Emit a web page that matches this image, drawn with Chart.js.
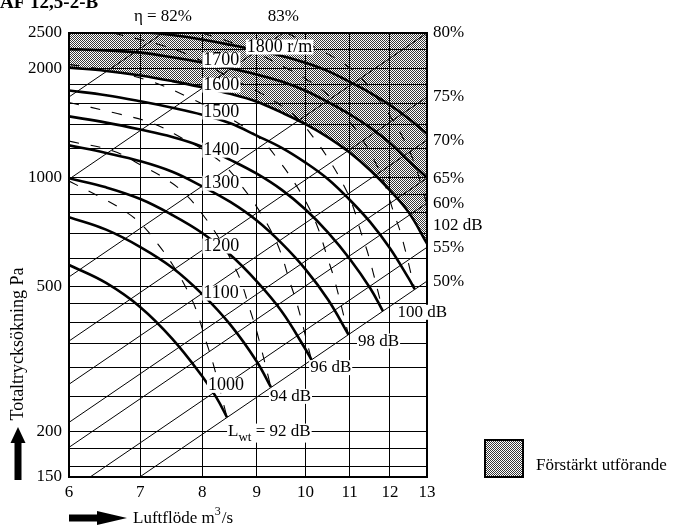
<!DOCTYPE html>
<html>
<head>
<meta charset="utf-8">
<script src="https://cdn.jsdelivr.net/npm/chart.js@4"></script>
<style>
  html, body { margin: 0; padding: 0; background: #fff; }
  canvas { display: block; background: #fff; }
</style>
</head>
<body>
<canvas id="fan" width="674" height="531"></canvas>
<script>
// Fan diagram: total pressure rise vs air flow, log-log axes.

const FONT = '"Liberation Serif", "Times New Roman", serif';

// Axis ticks
const xTicks = [6, 7, 8, 9, 10, 11, 12, 13];
const yGrid = [150, 160, 180, 200, 250, 300, 350, 400, 450, 500, 600, 700, 800, 900,
               1000, 1200, 1400, 1600, 1800, 2000, 2250, 2500];
const yLabelled = [150, 200, 500, 1000, 2000, 2500];

// Fan speed curves, [air flow m3/s, total pressure Pa]
const n1000 = [[6,575],[6.5,513],[7,440],[7.5,360],[8,284],[8.25,248],[8.44,219]];
const n1100 = [[6,778],[6.5,719],[7,644],[7.5,565],[8,478],[8.5,394],[9,312],[9.28,265]];
const n1200 = [[6,996],[6.5,940],[7,873],[7.5,789],[8,704],[8.5,613],[9,518],[9.5,428],[10,337],[10.13,315]];
const n1300 = [[6,1227],[6.5,1169],[7,1110],[7.5,1038],[8,946],[8.5,857],[9,762],[9.5,659],[10,559],[10.5,461],[10.97,370]];
const n1400 = [[6,1474],[6.5,1417],[7,1356],[7.5,1294],[8,1217],[8.5,1119],[9,1025],[9.5,925],[10,817],[10.5,706],[11,598],[11.5,496],[11.82,429]];
const n1500 = [[6,1737],[6.5,1685],[7,1622],[7.5,1557],[8,1490],[8.5,1411],[9,1305],[9.5,1208],[10,1100],[10.5,990],[11,869],[11.5,754],[12,639],[12.5,527],[12.66,493]];
const n1600 = [[6,2007],[6.5,1966],[7,1910],[7.5,1843],[8,1772],[8.5,1700],[9,1618],[9.5,1510],[10,1403],[10.5,1290],[11,1172],[11.5,1047],[12,922],[12.5,801],[13,658]];
const n1700 = [[6,2257],[6.5,2240],[7,2208],[7.5,2144],[8,2075],[8.5,2000],[9,1922],[9.5,1838],[10,1734],[10.5,1613],[11,1494],[11.5,1373],[12,1246],[12.5,1110],[13,1000]];
const n1800 = [[6,2540],[6.5,2534],[7,2515],[7.5,2469],[8,2398],[8.5,2320],[9,2242],[9.5,2161],[10,2070],[10.5,1963],[11,1834],[11.5,1711],[12,1584],[12.5,1452],[13,1320]];
const speedNames = ['1000', '1100', '1200', '1300', '1400', '1500', '1600', '1700', '1800 r/m'];

// Efficiency lines (system parabolas), end points
const eta82 = [[6,1667],[7.35,2500]];
const eta83 = [[6,990],[9.53,2500]];
const eta80 = [[6,533],[13,2500]];
const eta75 = [[6,355],[13,1667]];
const eta70 = [[6,270],[13,1268]];
const eta65 = [[6,212],[13,997]];
const eta60 = [[6,181],[13,851]];
const eta55 = [[6.28,150],[13,643]];
const eta50 = [[6.99,150],[13,519]];

// Sound power lines L_wt (dB)
const lwt92 = [[6,978],[6.42,884],[6.7,824],[7,749],[7.27,656],[7.51,574],[7.73,496],[7.9,431],[8.05,361],[8.19,308],[8.44,219]];
const lwt94 = [[6,1260],[6.6,1183],[7.06,1070],[7.37,997],[7.7,906],[8,794],[8.26,695],[8.5,600],[8.69,522],[8.86,437],[9.01,373],[9.28,265]];
const lwt96 = [[6,1610],[6.6,1510],[7.2,1408],[7.7,1273],[8.04,1187],[8.4,1079],[8.72,945],[9.01,827],[9.28,714],[9.48,621],[9.66,520],[9.83,444],[10.13,315]];
const lwt98 = [[6,2050],[6.6,1960],[7.2,1830],[7.8,1653],[8.35,1494],[8.71,1393],[9.1,1266],[9.45,1109],[9.76,970],[10.05,838],[10.27,728],[10.47,610],[10.65,521],[10.97,370]];
const lwt100 = [[6.6,2500],[7.3,2320],[7.9,2130],[8.4,1917],[8.99,1733],[9.38,1615],[9.8,1468],[10.18,1286],[10.51,1125],[10.82,972],[11.06,845],[11.27,708],[11.47,604],[11.82,429]];
const lwt102 = [[8,2500],[8.5,2360],[9,2200],[9.63,1989],[10.05,1854],[10.5,1685],[10.9,1476],[11.27,1292],[11.6,1116],[11.85,970],[12.08,812],[12.3,693],[12.66,493]];
const lwt104 = [[9.6,2504],[10.27,2263],[10.72,2109],[11.2,1917],[11.63,1679],[12.02,1469],[12.37,1270],[12.64,1103],[12.88,923],[13.1,780]];

// Label anchors in data units
const speedLabelAt = [[8.1,268],[8.02,481],[8.02,648],[8.02,965],[8.02,1190],[8.02,1515],[8.02,1797],[8.02,2106],[8.81,2287]];
const soundLabels = [
  { text: '92 dB', at: [8.46, 200], sub: true },
  { text: '94 dB', at: [9.26, 250] },
  { text: '96 dB', at: [10.1, 300] },
  { text: '98 dB', at: [11.2, 355] },
  { text: '100 dB', at: [12.2, 426] }
];
const sideSound = { text: '102 dB', p: 740 };
const rightEta = [['80%', eta80], ['75%', eta75], ['70%', eta70], ['65%', eta65], ['60%', eta60], ['55%', eta55], ['50%', eta50]];
const topEta = [['\u03b7 = 82%', eta82], ['83%', eta83]];

const ctx0 = document.getElementById('fan').getContext('2d');

// Stippled fill for the reinforced range
const dots = ctx0.createPattern((() => {
  const c = document.createElement('canvas');
  c.width = 2; c.height = 2;
  const g = c.getContext('2d');
  g.fillStyle = '#fff'; g.fillRect(0, 0, 2, 2);
  g.fillStyle = '#383838';
  g.fillRect(0, 0, 1, 1); g.fillRect(1, 1, 1, 1);
  return c;
})(), 'repeat');

const toXY = arr => arr.map(([x, y]) => ({ x, y }));

const speedSets = [n1000, n1100, n1200, n1300, n1400, n1500, n1600, n1700, n1800].map((d, i) => ({
  label: speedNames[i],
  data: toXY(d),
  borderColor: '#000',
  borderWidth: 2.6,
  pointRadius: 0,
  tension: 0.4,
  fill: speedNames[i] === '1600' ? 'end' : false,
  backgroundColor: speedNames[i] === '1600' ? dots : 'transparent'
}));
const etaSets = [eta82, eta83, eta80, eta75, eta70, eta65, eta60, eta55, eta50].map(d => ({
  data: toXY(d), borderColor: '#000', borderWidth: 1, pointRadius: 0, tension: 0, fill: false
}));
const soundSets = [lwt92, lwt94, lwt96, lwt98, lwt100, lwt102, lwt104].map(d => ({
  data: toXY(d), borderColor: '#000', borderWidth: 1.1, borderDash: [10, 12], pointRadius: 0,
  tension: 0.4, fill: false
}));

function boxText(ctx, text, x, y, h) {
  const w = ctx.measureText(text).width;
  ctx.fillStyle = '#fff';
  ctx.fillRect(x - 1, y - h / 2, w + 2, h);
  ctx.fillStyle = '#000';
  ctx.fillText(text, x, y);
}

const annotate = {
  id: 'annotate',
  afterDatasetsDraw(chart) {
    const { ctx, chartArea: a, scales: { x: sx, y: sy } } = chart;
    ctx.save();
    // frame
    ctx.strokeStyle = '#000';
    ctx.lineWidth = 2;
    ctx.strokeRect(a.left, a.top, a.right - a.left, a.bottom - a.top);

    ctx.textBaseline = 'middle';
    ctx.textAlign = 'left';
    // speed labels
    ctx.font = '18px ' + FONT;
    speedLabelAt.forEach(([q, p], i) => {
      boxText(ctx, speedNames[i], sx.getPixelForValue(q), sy.getPixelForValue(p), 15);
    });
    // sound labels
    soundLabels.forEach(l => {
      const px = sx.getPixelForValue(l.at[0]);
      const py = sy.getPixelForValue(l.at[1]);
      if (l.sub) {
        ctx.font = '17px ' + FONT;
        const wL = ctx.measureText('L').width;
        ctx.font = '13px ' + FONT;
        const wS = ctx.measureText('wt').width;
        ctx.font = '17px ' + FONT;
        const rest = ' = ' + l.text;
        const wR = ctx.measureText(rest).width;
        ctx.fillStyle = '#fff';
        ctx.fillRect(px - 1, py - 8, wL + wS + wR + 2, 19);
        ctx.fillStyle = '#000';
        ctx.fillText('L', px, py);
        ctx.font = '13px ' + FONT;
        ctx.fillText('wt', px + wL, py + 6);
        ctx.font = '17px ' + FONT;
        ctx.fillText(rest, px + wL + wS, py);
      } else {
        ctx.font = '17px ' + FONT;
        boxText(ctx, l.text, px, py, 15);
      }
    });
    // efficiency labels beyond the right edge
    ctx.font = '17px ' + FONT;
    ctx.fillStyle = '#000';
    rightEta.forEach(([t, line]) => {
      const end = line[line.length - 1];
      ctx.fillText(t, a.right + 6, sy.getPixelForValue(end[1]));
    });
    ctx.fillText(sideSound.text, a.right + 6, sy.getPixelForValue(sideSound.p));
    // efficiency labels above the top edge
    ctx.textAlign = 'center';
    topEta.forEach(([t, line]) => {
      const end = line[line.length - 1];
      ctx.fillText(t, sx.getPixelForValue(end[0]), a.top - 16);
    });

    // y axis title with arrow
    ctx.save();
    ctx.translate(18, 344);
    ctx.rotate(-Math.PI / 2);
    ctx.font = '18px ' + FONT;
    ctx.textAlign = 'center';
    ctx.fillText('Totaltrycksökning Pa', 0, 0);
    ctx.restore();
    ctx.beginPath();
    ctx.rect(14.5, 441, 7, 39);
    ctx.moveTo(10.5, 443); ctx.lineTo(18, 427); ctx.lineTo(25.5, 443); ctx.closePath();
    ctx.fill();

    // x axis title with arrow
    ctx.beginPath();
    ctx.rect(69, 514.5, 30, 7);
    ctx.moveTo(97, 511); ctx.lineTo(127, 518); ctx.lineTo(97, 525); ctx.closePath();
    ctx.fill();
    ctx.textAlign = 'left';
    ctx.font = '17px ' + FONT;
    ctx.fillText('Luftflöde m', 133, 519);
    const wm = ctx.measureText('Luftflöde m').width;
    ctx.font = '12px ' + FONT;
    ctx.fillText('3', 133 + wm, 512);
    const w3 = ctx.measureText('3').width;
    ctx.font = '17px ' + FONT;
    ctx.fillText('/s', 133 + wm + w3 + 1, 519);

    // legend
    ctx.fillStyle = dots;
    ctx.fillRect(485, 440, 38, 37);
    ctx.lineWidth = 2;
    ctx.strokeRect(485, 440, 38, 37);
    ctx.fillStyle = '#000';
    ctx.font = '17px ' + FONT;
    ctx.fillText('Förstärkt utförande', 536, 466);

    // header
    ctx.font = 'bold 19px ' + FONT;
    ctx.textBaseline = 'alphabetic';
    ctx.fillText('AF 12,5-2-B', 0, 8);
    ctx.restore();
  }
};

new Chart(ctx0, {
  type: 'line',
  data: { datasets: [...speedSets, ...etaSets, ...soundSets] },
  options: {
    responsive: false,
    animation: false,
    devicePixelRatio: 1,
    layout: { padding: { top: 33, right: 247, left: 0, bottom: 0 } },
    plugins: {
      legend: { display: false },
      tooltip: { enabled: false },
      filler: { drawTime: 'beforeDraw' }
    },
    scales: {
      x: {
        type: 'logarithmic', min: 6, max: 13,
        afterBuildTicks: s => { s.ticks = xTicks.map(v => ({ value: v })); },
        afterFit: s => { s.height = 54; },
        ticks: {
          autoSkip: false, maxRotation: 0, padding: 5, color: '#000',
          font: { family: FONT, size: 17 },
          callback: v => String(v)
        },
        grid: { color: '#000', lineWidth: 1, drawTicks: false },
        border: { display: false }
      },
      y: {
        type: 'logarithmic', min: 150, max: 2500,
        afterBuildTicks: s => { s.ticks = yGrid.map(v => ({ value: v })); },
        afterFit: s => { s.width = 69; },
        ticks: {
          autoSkip: false, padding: 7, color: '#000',
          font: { family: FONT, size: 17 },
          callback: v => (yLabelled.includes(v) ? String(v) : '')
        },
        grid: { color: '#000', lineWidth: 1, drawTicks: false },
        border: { display: false }
      }
    }
  },
  plugins: [annotate]
});
</script>
</body>
</html>
